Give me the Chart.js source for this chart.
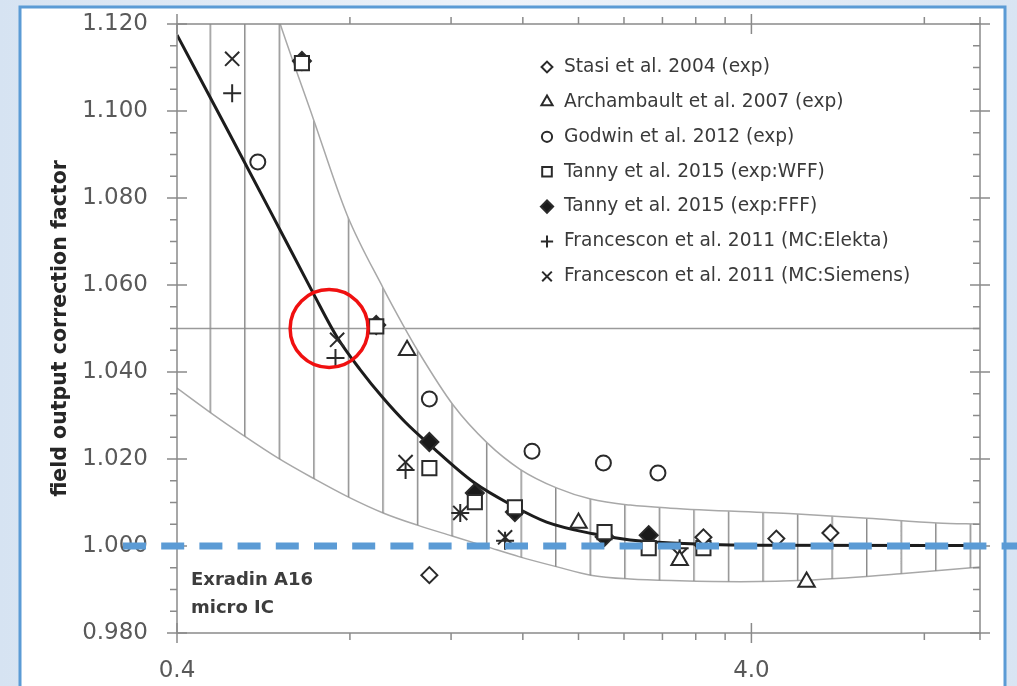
<!DOCTYPE html>
<html>
<head>
<meta charset="utf-8">
<script src="https://cdn.jsdelivr.net/npm/chart.js@4.4.0/dist/chart.umd.min.js"></script>
<style>
  html, body { margin: 0; padding: 0; overflow: hidden; background: #fff; }
  canvas { display: block; }
</style>
</head>
<body>
<canvas id="chart" width="1017" height="686"></canvas>
<script>
// axis ticks
const xTicks = [0.4, 0.8, 1.2, 1.6, 2.0, 2.4, 2.8, 3.2, 3.6, 4.0, 8.0, 10.0];
const xLabelled = [0.4, 4.0];
const yTicks = [0.98, 1.00, 1.02, 1.04, 1.06, 1.08, 1.10, 1.12];
const yMinor = [0.985, 0.99, 0.995, 1.005, 1.01, 1.015, 1.025, 1.03, 1.035, 1.045, 1.05, 1.055,
  1.065, 1.07, 1.075, 1.085, 1.09, 1.095, 1.105, 1.11, 1.115];
const refLine = 1.05;
const unityLine = 1.0;

// measured points [field size (cm), correction factor]
const stasi = [[1.10, 0.9933], [3.30, 1.0020], [4.42, 1.0017], [5.49, 1.0030]];
const archambault = [[1.006, 1.0450], [2.00, 1.0053], [3.00, 0.9967], [4.99, 0.9917]];
const godwin = [[0.553, 1.0883], [1.10, 1.0338], [1.66, 1.0218], [2.21, 1.0191], [2.75, 1.0168]];
const tannyWFF = [[0.66, 1.1110], [0.889, 1.0505], [1.10, 1.0179], [1.32, 1.0101], [1.55, 1.0089],
  [2.22, 1.0032], [2.65, 0.9995], [3.30, 0.9995]];
const tannyFFF = [[0.66, 1.1115], [0.889, 1.0508], [1.10, 1.0239], [1.32, 1.0122], [1.55, 1.0078],
  [2.22, 1.0021], [2.65, 1.0025], [3.30, 1.0003]];
const francesconElekta = [[0.499, 1.1041], [0.755, 1.0432], [1.00, 1.0175], [1.245, 1.0076],
  [1.49, 1.0012], [3.00, 0.9995]];
const francesconSiemens = [[0.499, 1.1120], [0.760, 1.0474], [1.00, 1.0193], [1.245, 1.0076],
  [1.49, 1.0020], [3.00, 0.9978]];

// fitted curve and its uncertainty band
const fitCurve = [[0.4, 1.1175], [0.495, 1.0945], [0.605, 1.0726], [0.69, 1.0582], [0.76, 1.0480],
  [0.834, 1.0405], [0.914, 1.0340], [0.998, 1.0285], [1.103, 1.0232], [1.312, 1.0147], [1.54, 1.0092],
  [1.76, 1.0055], [2.12, 1.0028], [2.46, 1.0014], [2.90, 1.0007], [4.0, 1.0002], [10.0, 1.0001]];
const bandUpper = [[0.4, 1.195], [0.495, 1.156], [0.605, 1.120], [0.69, 1.0984], [0.791, 1.0761],
  [0.914, 1.0593], [0.99, 1.0508], [1.048, 1.0451], [1.21, 1.0324], [1.387, 1.0237], [1.58, 1.0177],
  [1.836, 1.0133], [2.10, 1.0108], [2.46, 1.0094], [2.89, 1.0087], [4.73, 1.0074], [6.37, 1.0064],
  [8.43, 1.0053], [10.0, 1.0050]];
const bandLower = [[0.4, 1.0363], [0.456, 1.0308], [0.521, 1.0255], [0.60, 1.0202], [0.69, 1.0156],
  [0.794, 1.0113], [0.914, 1.0076], [1.048, 1.0048], [1.205, 1.0023], [1.387, 0.9998], [1.58, 0.9975],
  [1.836, 0.9952], [2.10, 0.9933], [2.46, 0.9924], [3.0, 0.9920], [3.83, 0.9918], [5.11, 0.9922],
  [7.27, 0.9936], [10.0, 0.9952]];

const seriesNames = [
  'Stasi et al. 2004 (exp)',
  'Archambault et al. 2007 (exp)',
  'Godwin et al. 2012 (exp)',
  'Tanny et al. 2015 (exp:WFF)',
  'Tanny et al. 2015 (exp:FFF)',
  'Francescon et al. 2011 (MC:Elekta)',
  'Francescon et al. 2011 (MC:Siemens)'
];

const FONT = "'DejaVu Sans', sans-serif";
const INK = '#2a2a2a';
const AXIS = '#8a8a8a';

const toPts = arr => arr.map(([x, y]) => ({ x, y }));

const canvas = document.getElementById('chart');
const ctx = canvas.getContext('2d');

// vertical hatching for the band
function makeHatch() {
  const c = document.createElement('canvas');
  c.width = 35; c.height = 8;
  const g = c.getContext('2d');
  g.fillStyle = '#8c8c8c';
  g.fillRect(0, 0, 1.5, 8);
  const p = ctx.createPattern(c, 'repeat');
  p.setTransform(new DOMMatrix([34.55 / 35, 0, 0, 1, 209.5, 0]));
  return p;
}

const markerStyles = [
  { pointStyle: 'rectRot', radius: 8, fill: '#fff' },
  { pointStyle: 'triangle', radius: 9.5, fill: '#fff' },
  { pointStyle: 'circle', radius: 7.5, fill: '#fff' },
  { pointStyle: 'rect', radius: 10, fill: '#fff' },
  { pointStyle: 'rectRot', radius: 9, fill: '#1a1a1a' },
  { pointStyle: 'cross', radius: 9, fill: '#fff' },
  { pointStyle: 'crossRot', radius: 10, fill: '#fff' }
];
const seriesData = [stasi, archambault, godwin, tannyWFF, tannyFFF, francesconElekta, francesconSiemens];

const markerSets = seriesData.map((d, i) => ({
  label: seriesNames[i],
  data: toPts(d),
  showLine: false,
  pointStyle: markerStyles[i].pointStyle,
  pointRadius: markerStyles[i].radius,
  pointBackgroundColor: markerStyles[i].fill,
  pointBorderColor: INK,
  pointBorderWidth: 2
}));

const bgPlugin = {
  id: 'frame',
  beforeDraw(chart) {
    const c = chart.ctx, W = chart.width, H = chart.height;
    c.save();
    const g = c.createLinearGradient(0, 0, W, 0);
    g.addColorStop(0, '#d6e3f2');
    g.addColorStop(0.5, '#eef3fa');
    g.addColorStop(1, '#d9e5f3');
    c.fillStyle = g;
    c.fillRect(0, 0, W, H);
    c.fillStyle = '#fff';
    c.fillRect(20, 7, 985, H);
    c.strokeStyle = '#5b9bd5';
    c.lineWidth = 3;
    c.strokeRect(20, 7, 985, H + 10);
    c.restore();
  },
  beforeDatasetsDraw(chart) {
    const { ctx: c, chartArea: a, scales: { y } } = chart;
    const py = y.getPixelForValue(refLine);
    c.save();
    c.strokeStyle = '#9a9a9a';
    c.lineWidth = 1.5;
    c.beginPath(); c.moveTo(a.left, py); c.lineTo(a.right, py); c.stroke();
    c.restore();
  },
  afterDatasetsDraw(chart) {
    const { ctx: c, chartArea: a, scales: { x, y } } = chart;
    c.save();
    // plot border
    c.strokeStyle = AXIS;
    c.lineWidth = 1.5;
    c.strokeRect(a.left, a.top, a.right - a.left, a.bottom - a.top);
    c.beginPath();
    // y ticks
    yTicks.forEach(v => {
      const p = y.getPixelForValue(v);
      c.moveTo(a.left - 10, p); c.lineTo(a.left + 10, p);
      c.moveTo(a.right - 10, p); c.lineTo(a.right + 10, p);
    });
    yMinor.forEach(v => {
      const p = y.getPixelForValue(v);
      c.moveTo(a.left - 7, p); c.lineTo(a.left, p);
      c.moveTo(a.right - 7, p); c.lineTo(a.right, p);
    });
    // x ticks
    xTicks.forEach(v => {
      const p = x.getPixelForValue(v);
      if (xLabelled.includes(v)) {
        c.moveTo(p, a.bottom - 10); c.lineTo(p, a.bottom + 10);
        c.moveTo(p, a.top - 10); c.lineTo(p, a.top + 10);
      } else {
        c.moveTo(p, a.bottom); c.lineTo(p, a.bottom + 7);
        c.moveTo(p, a.top - 7); c.lineTo(p, a.top);
      }
    });
    c.stroke();

    // legend inside the plot
    const lx = a.left + 370, ly = a.top + 43;
    c.font = '18.6px ' + FONT;
    c.textBaseline = 'middle';
    c.textAlign = 'left';
    seriesNames.forEach((name, i) => {
      const yy = ly + i * 34.9;
      const st = markerStyles[i];
      c.fillStyle = st.fill;
      c.strokeStyle = INK;
      c.lineWidth = 2;
      Chart.helpers.drawPoint(c, { pointStyle: st.pointStyle, radius: st.radius * 0.68, rotation: 0, borderWidth: 2 }, lx, yy);
      c.fillStyle = '#3a3a3a';
      c.fillText(name, lx + 17, yy);
    });

    // detector label
    c.font = 'bold 18px ' + FONT;
    c.fillStyle = '#3d3d3d';
    c.fillText('Exradin A16', a.left + 14, a.bottom - 53);
    c.fillText('micro IC', a.left + 14, a.bottom - 25);

    // red highlight circle
    c.strokeStyle = '#f01010';
    c.lineWidth = 3.5;
    c.beginPath();
    c.arc(x.getPixelForValue(0.736), y.getPixelForValue(refLine), 39, 0, Math.PI * 2);
    c.stroke();

    // blue dashed unity line
    const pu = y.getPixelForValue(unityLine);
    c.strokeStyle = '#5b9bd5';
    c.lineWidth = 7;
    c.setLineDash([23, 15.2]);
    c.beginPath();
    c.moveTo(123, pu); c.lineTo(chart.width, pu);
    c.stroke();
    c.restore();
  }
};

new Chart(ctx, {
  type: 'scatter',
  data: {
    datasets: [
      ...markerSets,
      {
        label: 'fit',
        type: 'line',
        data: toPts(fitCurve),
        borderColor: '#1c1c1c',
        borderWidth: 3,
        pointRadius: 0,
        cubicInterpolationMode: 'monotone',
        fill: false
      },
      {
        label: 'upper',
        type: 'line',
        data: toPts(bandUpper),
        borderColor: '#a8a8a8',
        borderWidth: 1.5,
        pointRadius: 0,
        cubicInterpolationMode: 'monotone',
        fill: '+1',
        backgroundColor: makeHatch()
      },
      {
        label: 'lower',
        type: 'line',
        data: toPts(bandLower),
        borderColor: '#a8a8a8',
        borderWidth: 1.5,
        pointRadius: 0,
        cubicInterpolationMode: 'monotone',
        fill: false
      }
    ]
  },
  options: {
    responsive: false,
    animation: false,
    layout: { padding: { left: 0, top: 24, right: 37, bottom: 0 } },
    plugins: {
      legend: { display: false },
      tooltip: { enabled: false }
    },
    scales: {
      x: {
        type: 'logarithmic',
        min: 0.4,
        max: 10,
        grid: { display: false, drawTicks: false },
        border: { display: false },
        afterBuildTicks: s => { s.ticks = xTicks.map(v => ({ value: v })); },
        afterFit: s => { s.height = 53; },
        ticks: {
          autoSkip: false,
          maxRotation: 0,
          padding: 24,
          color: '#595959',
          font: { family: FONT, size: 23 },
          callback: v => (xLabelled.includes(v) ? v.toFixed(1) : '')
        }
      },
      y: {
        min: 0.98,
        max: 1.12,
        grid: { display: false, drawTicks: false },
        border: { display: false },
        afterBuildTicks: s => { s.ticks = yTicks.map(v => ({ value: v })); },
        afterFit: s => { s.width = 177; s.paddingTop = 0; s.paddingBottom = 0; },
        ticks: {
          padding: 29,
          color: '#595959',
          font: { family: FONT, size: 23 },
          callback: v => v.toFixed(3)
        },
        title: {
          display: true,
          text: 'field output correction factor',
          color: '#262626',
          font: { family: FONT, size: 20.5, weight: 'bold' },
          padding: { top: 48, bottom: 0 }
        }
      }
    }
  },
  plugins: [bgPlugin]
});
</script>
</body>
</html>
